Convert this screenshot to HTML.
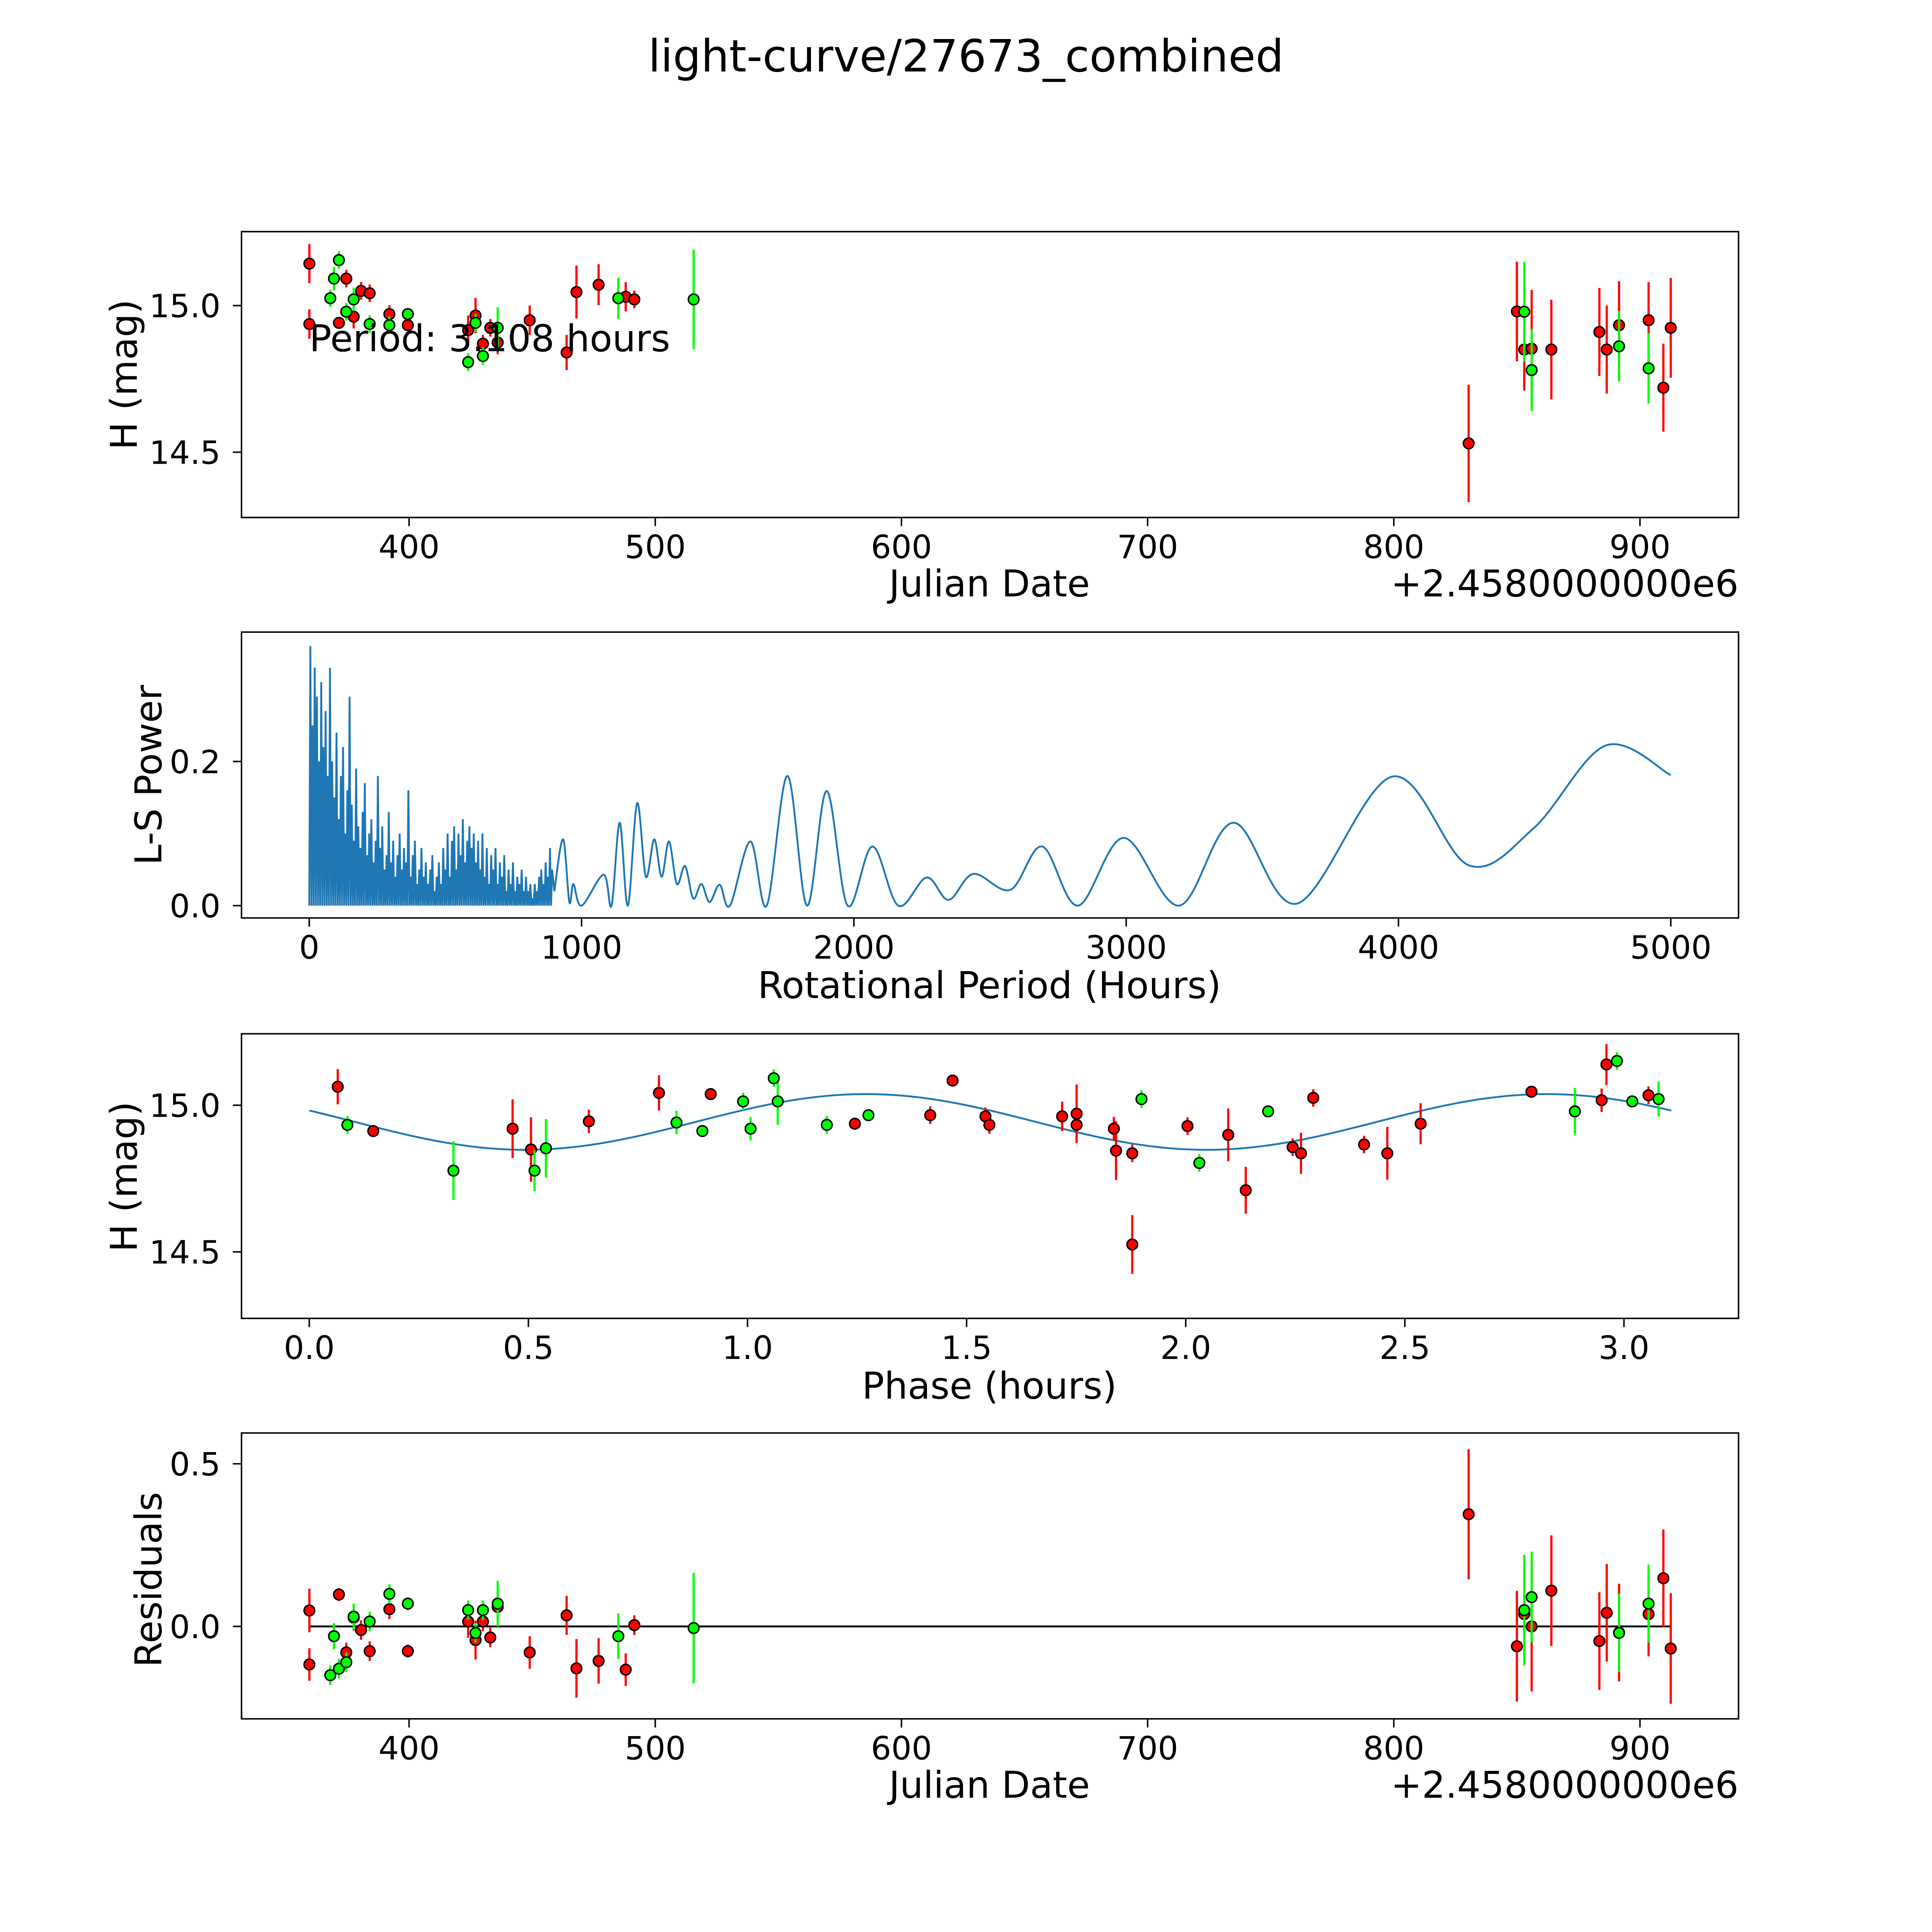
<!DOCTYPE html>
<html><head><meta charset="utf-8"><style>
html,body{margin:0;padding:0;background:#fff;overflow:hidden;width:100%;height:100%;}
svg{display:block;position:fixed;left:0;top:0;width:100vw;height:100vh;}
text{font-family:"DejaVu Sans","Liberation Sans",sans-serif;fill:#000;}
</style></head><body>
<svg id="fig" xmlns="http://www.w3.org/2000/svg" viewBox="0 0 1568 1568" preserveAspectRatio="none">
<rect x="0" y="0" width="1568" height="1568" fill="#fff"/>
<text x="784" y="58" font-size="36" text-anchor="middle">light-curve/27673_combined</text>
</svg>
<script>
// ---------- data ----------
const lcRedDate=[359.5,359.5,371.5,374.5,377.5,380.5,384,392,399.5,424,427,430,433,436,449,464,468,477,488,491.5,830.4,850,853,856,864,883.5,886.5,891.5,903.5,909.5,912.5];
const lcRedMag=[15.143,14.937,14.941,15.092,14.962,15.05,15.042,14.971,14.933,14.916,14.966,14.87,14.924,14.874,14.95,14.84,15.046,15.071,15.03,15.021,14.53,14.98,14.85,14.853,14.85,14.91,14.85,14.933,14.95,14.72,14.924];
const lcRedErr=[0.067,0.05,0.02,0.03,0.04,0.03,0.03,0.03,0.02,0.05,0.06,0.03,0.03,0.04,0.05,0.06,0.09,0.07,0.05,0.03,0.2,0.17,0.14,0.2,0.17,0.15,0.15,0.15,0.13,0.15,0.17];
const lcGreenDate=[368,369.5,371.5,374.5,377.5,384,392,399.5,424,427,430,436,485,515.6,853,856,891.5,903.5];
const lcGreenMag=[15.025,15.092,15.155,14.979,15.021,14.937,14.933,14.971,14.807,14.941,14.828,14.924,15.025,15.021,14.979,14.78,14.861,14.786];
const lcGreenErr=[0.03,0.04,0.03,0.03,0.04,0.03,0.03,0.02,0.03,0.03,0.03,0.07,0.07,0.17,0.17,0.14,0.12,0.12];

const resRed=[0.049,-0.117,0.098,-0.08,0.027,-0.011,-0.076,0.053,-0.076,0.015,-0.042,0.015,-0.034,0.06,-0.08,0.034,-0.129,-0.106,-0.133,0.004,0.345,-0.061,0.038,0.0,0.11,-0.045,0.042,-0.019,0.038,0.148,-0.068];
const resGreen=[-0.15,-0.03,-0.13,-0.11,0.03,0.015,0.1,0.07,0.05,-0.02,0.05,0.07,-0.03,-0.005,0.05,0.09,-0.02,0.07];

const phRedP=[0.065,0.146,0.464,0.506,0.638,0.798,0.916,1.245,1.417,1.468,1.543,1.552,1.718,1.751,1.751,1.836,1.841,1.878,1.878,2.004,2.097,2.137,2.244,2.263,2.291,2.407,2.46,2.536,2.789,2.949,2.96,3.056];
const phRedMag=[15.063,14.912,14.92,14.849,14.945,15.042,15.038,14.937,14.966,15.084,14.962,14.933,14.962,14.971,14.933,14.92,14.845,14.836,14.525,14.929,14.899,14.71,14.857,14.836,15.025,14.866,14.836,14.937,15.046,15.017,15.139,15.034];
const phRedErr=[0.06,0.02,0.1,0.11,0.04,0.06,0.02,0.02,0.03,0.02,0.03,0.03,0.05,0.1,0.06,0.04,0.1,0.03,0.1,0.03,0.09,0.08,0.03,0.07,0.03,0.03,0.09,0.07,0.02,0.04,0.07,0.03];
const phGreenP=[0.087,0.329,0.514,0.54,0.838,0.897,0.99,1.007,1.06,1.069,1.181,1.276,1.899,2.031,2.188,2.888,2.984,3.019,3.079];
const phGreenMag=[14.933,14.777,14.777,14.853,14.941,14.912,15.013,14.92,15.092,15.013,14.933,14.966,15.021,14.803,14.979,14.979,15.151,15.013,15.021];
const phGreenErr=[0.03,0.1,0.07,0.1,0.04,0.02,0.03,0.04,0.03,0.08,0.03,0.02,0.03,0.03,0.02,0.08,0.03,0.02,0.06];
const modelMean=14.943, modelAmp=0.095, modelPeakPhase=1.27, modelCycle=1.554, modelPeriod=3.108;

const lsDenseStart=4, lsDenseStep=8;
const lsDensePower=[0.36,0.25,0.33,0.29,0.2,0.31,0.22,
0.27,0.18,0.33,0.2,0.15,0.24,0.12,0.18,0.22,0.1,0.16,0.29,
0.14,0.09,0.19,0.11,0.08,0.13,0.17,0.07,0.1,0.12,0.06,0.09,0.18,0.08,0.11,0.05,0.07,0.13,0.06,
0.09,0.04,0.07,0.1,0.05,0.08,0.06,0.16,0.04,0.07,0.09,0.03,0.05,0.08,0.04,0.06,0.03,0.05,0.07,0.02,0.04,0.06,0.03,0.08,0.05,0.1,0.04,0.09,0.11,0.05,0.1,0.07,0.12,0.06,0.09,0.11,0.08,
0.1,0.06,0.09,0.05,0.1,0.04,0.08,0.03,0.07,0.05,0.08,0.03,0.06,0.04,0.07,0.02,0.05,0.03,0.06,0.02,0.04,0.03,0.05,0.02,0.04,0.02,0.03,0.01,0.03,0.02,0.04,0.05,0.03,0.06,0.04,0.08,0.05];
const lsPeriod=[900,932,955,970,1000,1081,1110,1140,1170,1204,1236,1267,1294,1321,1350,1380,1410,1440,1470,1507,1545,1620,1680,1756,1828,1900,1977,2068,2163,2267,2348,2439,2575,2692,2823,2991,3195,3394,3629,3977,4258,4498,4760,5000];
const lsPower=[0.02,0.092,0.005,0.03,0.0,0.043,0.0,0.115,0.0,0.142,0.04,0.092,0.04,0.089,0.03,0.055,0.01,0.03,0.005,0.029,0.0,0.089,0.0,0.18,0.0,0.159,0.0,0.082,0.0,0.039,0.008,0.044,0.022,0.082,0.0,0.094,0.0,0.115,0.003,0.179,0.056,0.108,0.222,0.181];

const xTicksJD=[400,500,600,700,800,900];
const yTicksMag=[14.5,15.0];
const xTicksLS=[0,1000,2000,3000,4000,5000];
const yTicksLS=[0.0,0.2];
const xTicksPh=[0.0,0.5,1.0,1.5,2.0,2.5,3.0];
const yTicksRes=[0.0,0.5];

// ---------- helpers ----------
const NS="http://www.w3.org/2000/svg";
const svg=document.getElementById('fig');
function mk(tag,attrs,parent){const e=document.createElementNS(NS,tag);for(const k in attrs)e.setAttribute(k,attrs[k]);(parent||svg).appendChild(e);return e;}
function lin(d0,d1,r0,r1){return v=>r0+(v-d0)*(r1-r0)/(d1-d0);}
const L=196,R=1411,TF=26,LF=30;
function axesFrame(name,top,bot){
  const g=mk('g',{});
  
  
  return g;
}
function frame(g,top,bot){const r=mk('rect',{x:L,y:top,width:R-L,height:bot-top,fill:'none',stroke:'#000','stroke-width':1.2},g);}
function xticks(g,vals,sx,bot,fmt){vals.forEach(v=>{const x=sx(v);
  const t=mk('line',{x1:x,x2:x,y1:bot,y2:bot+7,stroke:'#000','stroke-width':1.2},g);
  
  const l=mk('text',{x:x,y:bot+33,'font-size':TF,'text-anchor':'middle'},g);l.textContent=fmt(v);
  });}
function yticks(g,vals,sy,fmt){vals.forEach(v=>{const y=sy(v);
  const t=mk('line',{x1:L-7,x2:L,y1:y,y2:y,stroke:'#000','stroke-width':1.2},g);
  
  const l=mk('text',{x:L-17,y:y+9.5,'font-size':TF,'text-anchor':'end'},g);l.textContent=fmt(v);
  });}
function label(g,txt,x,y,rot,name){const l=mk('text',{x:x,y:y,'font-size':LF,'text-anchor':'middle',transform:rot?`rotate(-90 ${x} ${y})`:''},g);l.textContent=txt;
  }
function errpts(g,xs,ys,es,sx,sy,color,name){
  xs.forEach((x,i)=>{const b=mk('line',{x1:sx(x),x2:sx(x),y1:sy(ys[i]-es[i]),y2:sy(ys[i]+es[i]),stroke:color,'stroke-width':1.8},g);
    });
  xs.forEach((x,i)=>{const c=mk('circle',{cx:sx(x),cy:sy(ys[i]),r:4.3,fill:color,stroke:'#000','stroke-width':1.2},g);
    });
}
const f1=v=>v.toFixed(1);

// ---------- panel 1: light curve ----------
{const top=188,bot=420;const g=axesFrame('light-curve-panel',top,bot);
 const sx=lin(400,900,332,1331), sy=lin(14.5,15.0,367,248);
 const cp=mk('clipPath',{id:'c1'},g);mk('rect',{x:L,y:top,width:R-L,height:bot-top},cp);
 const gg=mk('g',{'clip-path':'url(#c1)'},g);
 errpts(gg,lcRedDate,lcRedMag,lcRedErr,sx,sy,'#ff0000','lc-red');
 errpts(gg,lcGreenDate,lcGreenMag,lcGreenErr,sx,sy,'#00ff00','lc-green');
 const pt=mk('text',{x:251,y:285,'font-size':LF},g);pt.textContent='Period: 3.108 hours';
 
 frame(g,top,bot);xticks(g,xTicksJD,sx,bot,v=>String(v));yticks(g,yTicksMag,sy,f1);
 label(g,'Julian Date',803,484,false,'x-axis-title');label(g,'H (mag)',111,304,true,'y-axis-title');
 const o=mk('text',{x:R,y:484,'font-size':LF,'text-anchor':'end'},g);o.textContent='+2.4580000000e6';
 }

// ---------- panel 2: periodogram ----------
{const top=513,bot=745;const g=axesFrame('periodogram-panel',top,bot);
 const sx=lin(0,5000,251,1356), sy=lin(0,0.2,735,618);
 let d='';
 lsDensePower.forEach((v,i)=>{const p=lsDenseStart+i*lsDenseStep;d+=(i?'L':'M')+sx(p-lsDenseStep/2)+','+sy(0)+'L'+sx(p)+','+sy(v);});
 const dense=mk('path',{d:d,fill:'none',stroke:'#1f77b4','stroke-width':1.5},g);
 
 const P=lsPeriod.map((p,i)=>[sx(p),sy(lsPower[i])]);
 let s='M'+sx(lsDenseStart+(lsDensePower.length-1)*lsDenseStep)+','+sy(lsDensePower[lsDensePower.length-1])+'L'+P[0][0]+','+P[0][1];
 for(let i=0;i<P.length-1;i++){const p0=P[Math.max(0,i-1)],p1=P[i],p2=P[i+1],p3=P[Math.min(P.length-1,i+2)];
   const c1=[p1[0]+(p2[0]-p0[0])/6,p1[1]+(p2[1]-p0[1])/6],c2=[p2[0]-(p3[0]-p1[0])/6,p2[1]-(p3[1]-p1[1])/6];
   s+=`C${c1[0]},${c1[1]} ${c2[0]},${c2[1]} ${p2[0]},${p2[1]}`;}
 const ln=mk('path',{d:s,fill:'none',stroke:'#1f77b4','stroke-width':1.5},g);
 
 frame(g,top,bot);xticks(g,xTicksLS,sx,bot,v=>String(v));yticks(g,yTicksLS,sy,f1);
 label(g,'Rotational Period (Hours)',803,810,false,'x-axis-title');label(g,'L-S Power',131,629,true,'y-axis-title');}

// ---------- panel 3: phase ----------
{const top=839,bot=1070;const g=axesFrame('phase-panel',top,bot);
 const sx=lin(0,3,251,1318), sy=lin(14.5,15.0,1016,897);
 let d='';const n=200;
 for(let i=0;i<=n;i++){const p=modelPeriod*i/n;const m=modelMean+modelAmp*Math.cos(2*Math.PI*(p-modelPeakPhase)/modelCycle);d+=(i?'L':'M')+sx(p)+','+sy(m);}
 const ml=mk('path',{d:d,fill:'none',stroke:'#1f77b4','stroke-width':1.5},g);
 
 errpts(g,phRedP,phRedMag,phRedErr,sx,sy,'#ff0000','phase-red');
 errpts(g,phGreenP,phGreenMag,phGreenErr,sx,sy,'#00ff00','phase-green');
 frame(g,top,bot);xticks(g,xTicksPh,sx,bot,f1);yticks(g,yTicksMag,sy,f1);
 label(g,'Phase (hours)',803,1135,false,'x-axis-title');label(g,'H (mag)',111,955,true,'y-axis-title');}

// ---------- panel 4: residuals ----------
{const top=1163,bot=1395;const g=axesFrame('residuals-panel',top,bot);
 const sx=lin(400,900,332,1331), sy=lin(0,0.5,1320,1188);
 const z=mk('line',{x1:sx(359.5),x2:sx(912.5),y1:sy(0),y2:sy(0),stroke:'#000','stroke-width':1.5},g);
 
 errpts(g,lcRedDate,resRed,lcRedErr,sx,sy,'#ff0000','residual-red');
 errpts(g,lcGreenDate,resGreen,lcGreenErr,sx,sy,'#00ff00','residual-green');
 frame(g,top,bot);xticks(g,xTicksJD,sx,bot,v=>String(v));yticks(g,yTicksRes,sy,f1);
 label(g,'Julian Date',803,1459,false,'x-axis-title');label(g,'Residuals',131,1282,true,'y-axis-title');
 const o=mk('text',{x:R,y:1459,'font-size':LF,'text-anchor':'end'},g);o.textContent='+2.4580000000e6';
 }
</script>
</body></html>
